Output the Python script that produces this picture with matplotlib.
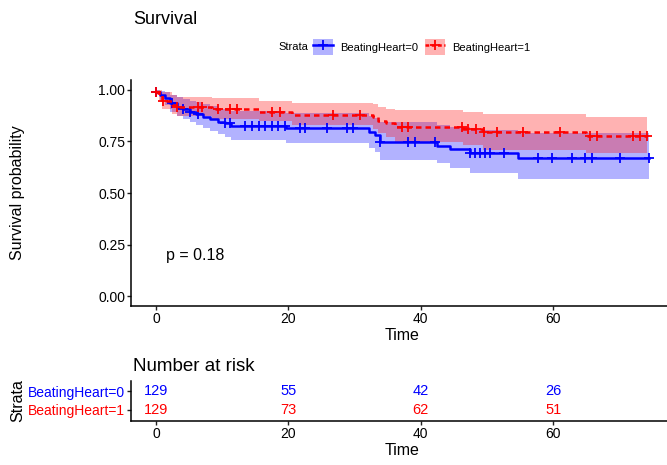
import numpy as np
import matplotlib
matplotlib.use("Agg")
import matplotlib.pyplot as plt
from matplotlib.patches import Patch
from matplotlib.lines import Line2D

plt.rcParams['font.family'] = ['Liberation Sans', 'DejaVu Sans']

# step curves (time of step, survival, lower, upper)
t0 = [0, 0.6, 1.4, 2.1, 3.1, 4.1, 5.1, 6.1, 7.1, 8.2, 9.4, 10.4, 11.4,
      19.7, 32.1, 33.1, 33.8, 42.4, 44.4, 47.4, 54.7, 74.4]
s0 = [0.992, 0.976, 0.959, 0.935, 0.919, 0.906, 0.895, 0.883, 0.870, 0.859,
      0.846, 0.838, 0.827, 0.814, 0.798, 0.782, 0.749, 0.730, 0.714, 0.696,
      0.668, 0.668]
lo0 = [0.980, 0.950, 0.925, 0.895, 0.875, 0.860, 0.845, 0.830, 0.815, 0.800,
       0.785, 0.770, 0.755, 0.741, 0.717, 0.700, 0.660, 0.644, 0.620, 0.596,
       0.568, 0.568]
up0 = [1.000, 0.995, 0.990, 0.975, 0.965, 0.955, 0.948, 0.940, 0.930, 0.920,
       0.910, 0.905, 0.897, 0.887, 0.875, 0.862, 0.846, 0.830, 0.820, 0.806,
       0.790, 0.790]

t1 = [0, 0.4, 0.9, 2.4, 3.1, 8.4, 15.5, 20.5, 32.8, 33.6, 34.8, 36.1, 46.4,
      49.4, 65.0, 74.1]
s1 = [0.992, 0.976, 0.948, 0.927, 0.919, 0.906, 0.895, 0.880, 0.867, 0.851,
      0.838, 0.822, 0.810, 0.798, 0.777, 0.777]
lo1 = [0.975, 0.950, 0.910, 0.885, 0.875, 0.860, 0.848, 0.830, 0.810, 0.790,
       0.770, 0.749, 0.735, 0.709, 0.693, 0.693]
up1 = [1.000, 1.000, 0.990, 0.975, 0.968, 0.959, 0.948, 0.938, 0.930, 0.919,
       0.910, 0.903, 0.892, 0.882, 0.870, 0.870]

# censoring times
cens0 = [0, 2.4, 4.1, 5.1, 6.4, 10.4, 11.2, 13.4, 14.5, 15.5, 16.5, 17.5,
         18.5, 19.5, 21.8, 22.5, 25.8, 28.9, 29.8, 33.8, 38.1, 39.1, 42.1,
         47.4, 48.2, 48.9, 49.7, 50.5, 52.5, 57.7, 59.8, 62.8, 64.8, 65.8,
         70.1, 74.4]
cens1 = [0, 1.1, 3.1, 6.4, 6.9, 9.4, 11.2, 12.2, 17.5, 18.7, 26.8, 30.8,
         37.1, 38.1, 46.2, 47.2, 48.4, 49.5, 51.5, 55.5, 61.0, 65.6, 66.6,
         72.1, 73.1, 74.1]

strata = ["BeatingHeart=0", "BeatingHeart=1"]
risk_times = [0, 20, 40, 60]
risk0 = [129, 55, 42, 26]
risk1 = [129, 73, 62, 51]
pval = "p = 0.18"

cols = ["#0000FF", "#FF0000"]
W, H = 667, 465
LEFT, RIGHT = 131.4, 673

fig = plt.figure(figsize=(W / 100, H / 100), dpi=100)
ax = fig.add_axes([LEFT / W, (H - 306) / H, (RIGHT - LEFT) / W, (306 - 80) / H])


def surv_at(times, surv, x):
    i = np.searchsorted(times, x, side='right') - 1
    return np.asarray(surv)[np.clip(i, 0, len(surv) - 1)]


for t, s, lo, up, cen, c, ls in [(t0, s0, lo0, up0, cens0, cols[0], '-'),
                                 (t1, s1, lo1, up1, cens1, cols[1], (0, (2.2, 1.6)))]:
    ax.fill_between(t, lo, up, step='post', color=c, alpha=0.3, lw=0)
    ax.step(t, s, where='post', color=c, lw=1.8, ls=ls)
    ax.plot(cen, surv_at(t, s, cen), '+', color=c, ms=6.5, mew=1.3)

ax.set_xlim(-3.72, 78.1)
ax.set_ylim(-0.0485, 1.0485)
ax.set_xticks([0, 20, 40, 60])
ax.set_yticks([0, 0.25, 0.5, 0.75, 1.0])
ax.set_yticklabels(["0.00", "0.25", "0.50", "0.75", "1.00"])
for sp in ['top', 'right']:
    ax.spines[sp].set_visible(False)
for sp in ['left', 'bottom']:
    ax.spines[sp].set_linewidth(1.1)
ax.tick_params(labelsize=10, length=3, width=1.0, pad=1.5, colors='#222222',
               labelcolor='black')
ax.set_xlabel("Time", fontsize=11.5, labelpad=1)
ax.set_ylabel("Survival probability", fontsize=11.5)
ax.yaxis.set_label_coords((25 - LEFT) / (RIGHT - LEFT), 0.5)
ax.text(1.5, 0.195, pval, fontsize=11.5, va='center', ha='left')

fig.text(133 / W, 1 - 19 / H, "Survival", fontsize=13, va='center')

# legend
fig.text(278 / W, 1 - 47 / H, "Strata", fontsize=8, va='center', ha='left')
handles = [(Patch(facecolor=c, alpha=0.3, lw=0),
            Line2D([0], [0], color=c, lw=1.8, marker='+', ms=7, mew=1.3,
                   ls='-' if i == 0 else (0, (1.5, 1))))
           for i, c in enumerate(cols)]
fig.legend(handles, strata, loc='center left', bbox_to_anchor=(313 / W, 1 - 47 / H),
           ncol=2, frameon=False, fontsize=8, handlelength=1.8, handleheight=1.8,
           handletextpad=0.6, columnspacing=0.7, borderpad=0, borderaxespad=0)

# risk table
ax2 = fig.add_axes([LEFT / W, (H - 421) / H, (RIGHT - LEFT) / W, 40.3 / H])
ax2.set_xlim(-3.72, 78.1)
ax2.set_ylim(-0.62, 1.58)
for i, row in enumerate([risk0, risk1]):
    for x, n in zip(risk_times, row):
        ax2.text(x, 1 - i, str(n), color=cols[i], fontsize=10.5, ha='center',
                 va='center')
ax2.set_yticks([1, 0])
ax2.set_yticklabels(strata)
ax2.set_xticks(risk_times)
for sp in ['top', 'right']:
    ax2.spines[sp].set_visible(False)
for sp in ['left', 'bottom']:
    ax2.spines[sp].set_linewidth(1.1)
ax2.tick_params(labelsize=10, length=3, width=1.0, pad=1.5, colors='#222222',
                labelcolor='black')
for lab, c in zip(ax2.get_yticklabels(), cols):
    lab.set_color(c)
ax2.set_xlabel("Time", fontsize=11.5, labelpad=1)
ax2.set_ylabel("Strata", fontsize=11.5)
ax2.yaxis.set_label_coords((25 - LEFT) / (RIGHT - LEFT), 0.5)
fig.text(133 / W, 1 - 366 / H, "Number at risk", fontsize=13.5, va='center')

fig.savefig("out.png", dpi=100)
